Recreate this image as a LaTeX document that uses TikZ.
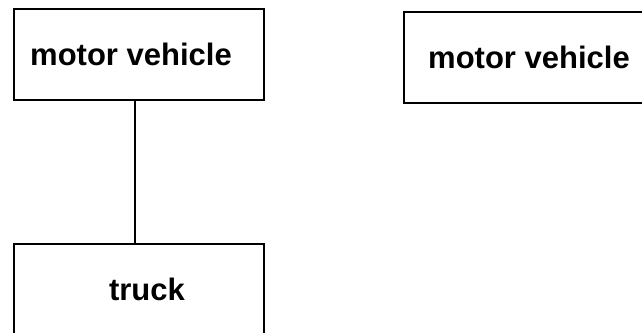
\documentclass[tikz,border=0pt]{standalone}
\usepackage{fontspec}
\setmainfont{Liberation Sans}
\begin{document}
\begin{tikzpicture}[x=1pt,y=-1pt,line width=2pt]

      \clip (0,0) rectangle (642,332);
      \useasboundingbox (0,0) rectangle (642,332);

      \begin{scope}[every node/.style={rectangle,draw,inner sep=0pt,minimum width=250pt,minimum height=91pt}]
        \node (mv)    at (139,54.5)  {};
        \node (truck) at (139,289.5) {};
        \node (mv2)   at (529,57.5)  {};
      \end{scope}

      \begin{scope}[every node/.style={font=\fontsize{31}{31}\selectfont\bfseries}]
        \node at ([xshift=-8pt]mv.center)   {motor vehicle};
        \node at ([xshift=8pt]truck.center) {truck};
        \node at (mv2.center)               {motor vehicle};
      \end{scope}

      \draw ([xshift=-4pt]mv.south) -- ([xshift=-4pt]truck.north);

    \end{tikzpicture}
\end{document}
